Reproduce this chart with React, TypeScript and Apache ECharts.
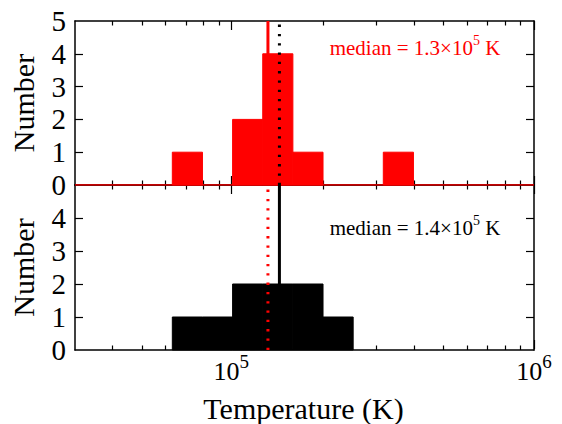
import React, { useEffect, useRef } from 'react';
import * as echarts from 'echarts';

// Histogram bins in log10(T / K)
const binStartsLog = [4.8, 4.9, 5.0, 5.1, 5.2, 5.3, 5.4, 5.5];
const binWidthLog = 0.1;
const topCounts = [1, 0, 2, 4, 1, 0, 0, 1];
const bottomCounts = [1, 1, 2, 2, 2, 1, 0, 0];
const medianTopK = 1.31e5;
const medianBottomK = 1.43e5;
const topLabelText = 'median = 1.3×10{s|5} K';
const bottomLabelText = 'median = 1.4×10{s|5} K';
const xMinK = 3e4;
const xMaxK = 1e6;
const minorTickK = [4e4, 5e4, 6e4, 7e4, 8e4, 9e4, 2e5, 3e5, 4e5, 5e5, 6e5, 7e5, 8e5, 9e5];
const majorTickExp = [5, 6];
const topYLabels = [0, 1, 2, 3, 4, 5];
const bottomYLabels = [0, 1, 2, 3, 4];
const yMax = 5;

const FONT = '"Liberation Serif", "Times New Roman", serif';
const RED = '#ff0000';
const BLACK = '#000000';

const xMin = Math.log10(xMinK);
const xMax = Math.log10(xMaxK);
const minorLog = minorTickK.map((v) => Math.log10(v));

function minorAxis(gridIndex: number, position: string) {
  return {
    type: 'value',
    gridIndex,
    position,
    min: xMin,
    max: xMax,
    axisLine: { show: true, onZero: false, lineStyle: { color: BLACK, width: 1.5 } },
    axisTick: { show: true, inside: true, length: 4.5, customValues: minorLog, lineStyle: { color: BLACK, width: 1.2 } },
    axisLabel: { show: false },
    splitLine: { show: false },
  };
}

function majorAxis(gridIndex: number, position: string, withLabels: boolean) {
  const ax: any = {
    type: 'value',
    gridIndex,
    position,
    min: xMin,
    max: xMax,
    axisLine: { show: false, onZero: false },
    axisTick: { show: true, inside: true, length: 9, customValues: majorTickExp, lineStyle: { color: BLACK, width: 1.2 } },
    axisLabel: { show: false },
    splitLine: { show: false },
  };
  if (withLabels) {
    ax.axisLabel = {
      show: true,
      customValues: majorTickExp,
      margin: 3,
      color: BLACK,
      fontFamily: FONT,
      formatter: (v: number) => '{b|10}{s|' + Math.round(v) + '}',
      rich: {
        b: { fontSize: 26, fontFamily: FONT, color: BLACK },
        s: { fontSize: 19, fontFamily: FONT, color: BLACK, padding: [0, 0, 19, 0] },
      },
    };
    ax.name = 'Temperature (K)';
    ax.nameLocation = 'middle';
    ax.nameGap = 44;
    ax.nameTextStyle = { fontSize: 30, fontFamily: FONT, color: BLACK };
  }
  return ax;
}

function yAxisLeft(gridIndex: number, labels: number[]) {
  return {
    type: 'value',
    gridIndex,
    position: 'left',
    min: 0,
    max: yMax,
    axisLine: { show: true, onZero: false, lineStyle: { color: BLACK, width: 1.5 } },
    axisTick: { show: true, inside: true, length: 8, customValues: [1, 2, 3, 4], lineStyle: { color: BLACK, width: 1.2 } },
    axisLabel: { show: true, customValues: labels, margin: 9, fontSize: 29, fontFamily: FONT, color: BLACK },
    splitLine: { show: false },
    name: 'Number',
    nameLocation: 'middle',
    nameGap: 37,
    nameTextStyle: { fontSize: 30, fontFamily: FONT, color: BLACK },
  };
}

function yAxisRight(gridIndex: number) {
  return {
    type: 'value',
    gridIndex,
    position: 'right',
    min: 0,
    max: yMax,
    axisLine: { show: true, onZero: false, lineStyle: { color: BLACK, width: 1.5 } },
    axisTick: { show: true, inside: true, length: 8, customValues: [1, 2, 3, 4], lineStyle: { color: BLACK, width: 1.2 } },
    axisLabel: { show: false },
    splitLine: { show: false },
  };
}

function yHidden(gridIndex: number) {
  return { type: 'value', gridIndex, min: 0, max: yMax, show: false };
}

function histRender(color: string) {
  return (params: any, api: any) => {
    const lo = api.value(0);
    const hi = api.value(1);
    const c = api.value(2);
    if (!c) return null;
    const p0 = api.coord([lo, 0]);
    const p1 = api.coord([hi, c]);
    return {
      type: 'rect',
      shape: { x: p0[0], y: p1[1], width: p1[0] - p0[0], height: p0[1] - p1[1] },
      style: { fill: color, stroke: color, lineWidth: 1 },
    };
  };
}

function verticalLine(xAxisIndex: number, yAxisIndex: number, valueK: number, color: string, dotted: boolean, z: number) {
  const lx = Math.log10(valueK);
  return {
    type: 'line',
    xAxisIndex,
    yAxisIndex,
    data: [[lx, 0], [lx, yMax]],
    symbol: 'none',
    silent: true,
    z,
    lineStyle: { color, width: 3, type: dotted ? [2.3, 7] : 'solid', cap: 'butt' },
  };
}

export default function App() {
  const ref = useRef<HTMLDivElement>(null);
  useEffect(() => {
    if (!ref.current) return;
    const chart = echarts.init(ref.current, null, { renderer: 'svg' });
    const L = 73, R = 28, T1 = 21, H1 = 164, T2 = 185, H2 = 165;
    const labelStyle = (color: string) => ({
      text: '',
      fill: color,
      fontSize: 21,
      fontFamily: FONT,
      align: 'center',
      verticalAlign: 'middle',
      rich: { s: { fontSize: 14, fontFamily: FONT, fill: color, padding: [0, 0, 15, 0] } },
    });
    const option: any = {
      animation: false,
      textStyle: { fontFamily: FONT },
      grid: [
        { left: L, right: R, top: T1, height: H1 },
        { left: L, right: R, top: T2, height: H2 },
        { left: L, right: R, top: T1, height: H1 },
        { left: L, right: R, top: T2, height: H2 },
      ],
      xAxis: [
        minorAxis(0, 'bottom'),
        minorAxis(0, 'top'),
        minorAxis(1, 'bottom'),
        minorAxis(1, 'top'),
        majorAxis(2, 'bottom', false),
        majorAxis(2, 'top', false),
        majorAxis(3, 'bottom', true),
        majorAxis(3, 'top', false),
      ],
      yAxis: [
        yAxisLeft(0, topYLabels),
        yAxisRight(0),
        yAxisLeft(1, bottomYLabels),
        yAxisRight(1),
        yHidden(2),
        yHidden(3),
      ],
      series: [
        {
          type: 'custom',
          xAxisIndex: 0,
          yAxisIndex: 0,
          z: 2,
          silent: true,
          encode: { x: [0, 1], y: 2 },
          data: binStartsLog.map((s, i) => [s, s + binWidthLog, topCounts[i]]),
          renderItem: histRender(RED),
        },
        {
          type: 'line',
          xAxisIndex: 0,
          yAxisIndex: 0,
          data: [[xMin, 0], [xMax, 0]],
          symbol: 'none',
          silent: true,
          z: 3,
          lineStyle: { color: RED, width: 1.5 },
        },
        verticalLine(0, 0, medianTopK, RED, false, 4),
        verticalLine(0, 0, medianBottomK, BLACK, true, 5),
        {
          type: 'custom',
          xAxisIndex: 2,
          yAxisIndex: 2,
          z: 2,
          silent: true,
          encode: { x: [0, 1], y: 2 },
          data: binStartsLog.map((s, i) => [s, s + binWidthLog, bottomCounts[i]]),
          renderItem: histRender(BLACK),
        },
        verticalLine(2, 2, medianBottomK, BLACK, false, 4),
        verticalLine(2, 2, medianTopK, RED, true, 5),
      ],
      graphic: [
        {
          type: 'text',
          x: 415,
          y: 48,
          z: 10,
          style: { ...labelStyle(RED), text: topLabelText },
        },
        {
          type: 'text',
          x: 415,
          y: 227.5,
          z: 10,
          style: { ...labelStyle(BLACK), text: bottomLabelText },
        },
      ],
    };
    chart.setOption(option);
    return () => chart.dispose();
  }, []);
  return <div ref={ref} style={{ position: 'absolute', left: 0, top: 0, width: 562, height: 424, background: '#fff' }} />;
}
